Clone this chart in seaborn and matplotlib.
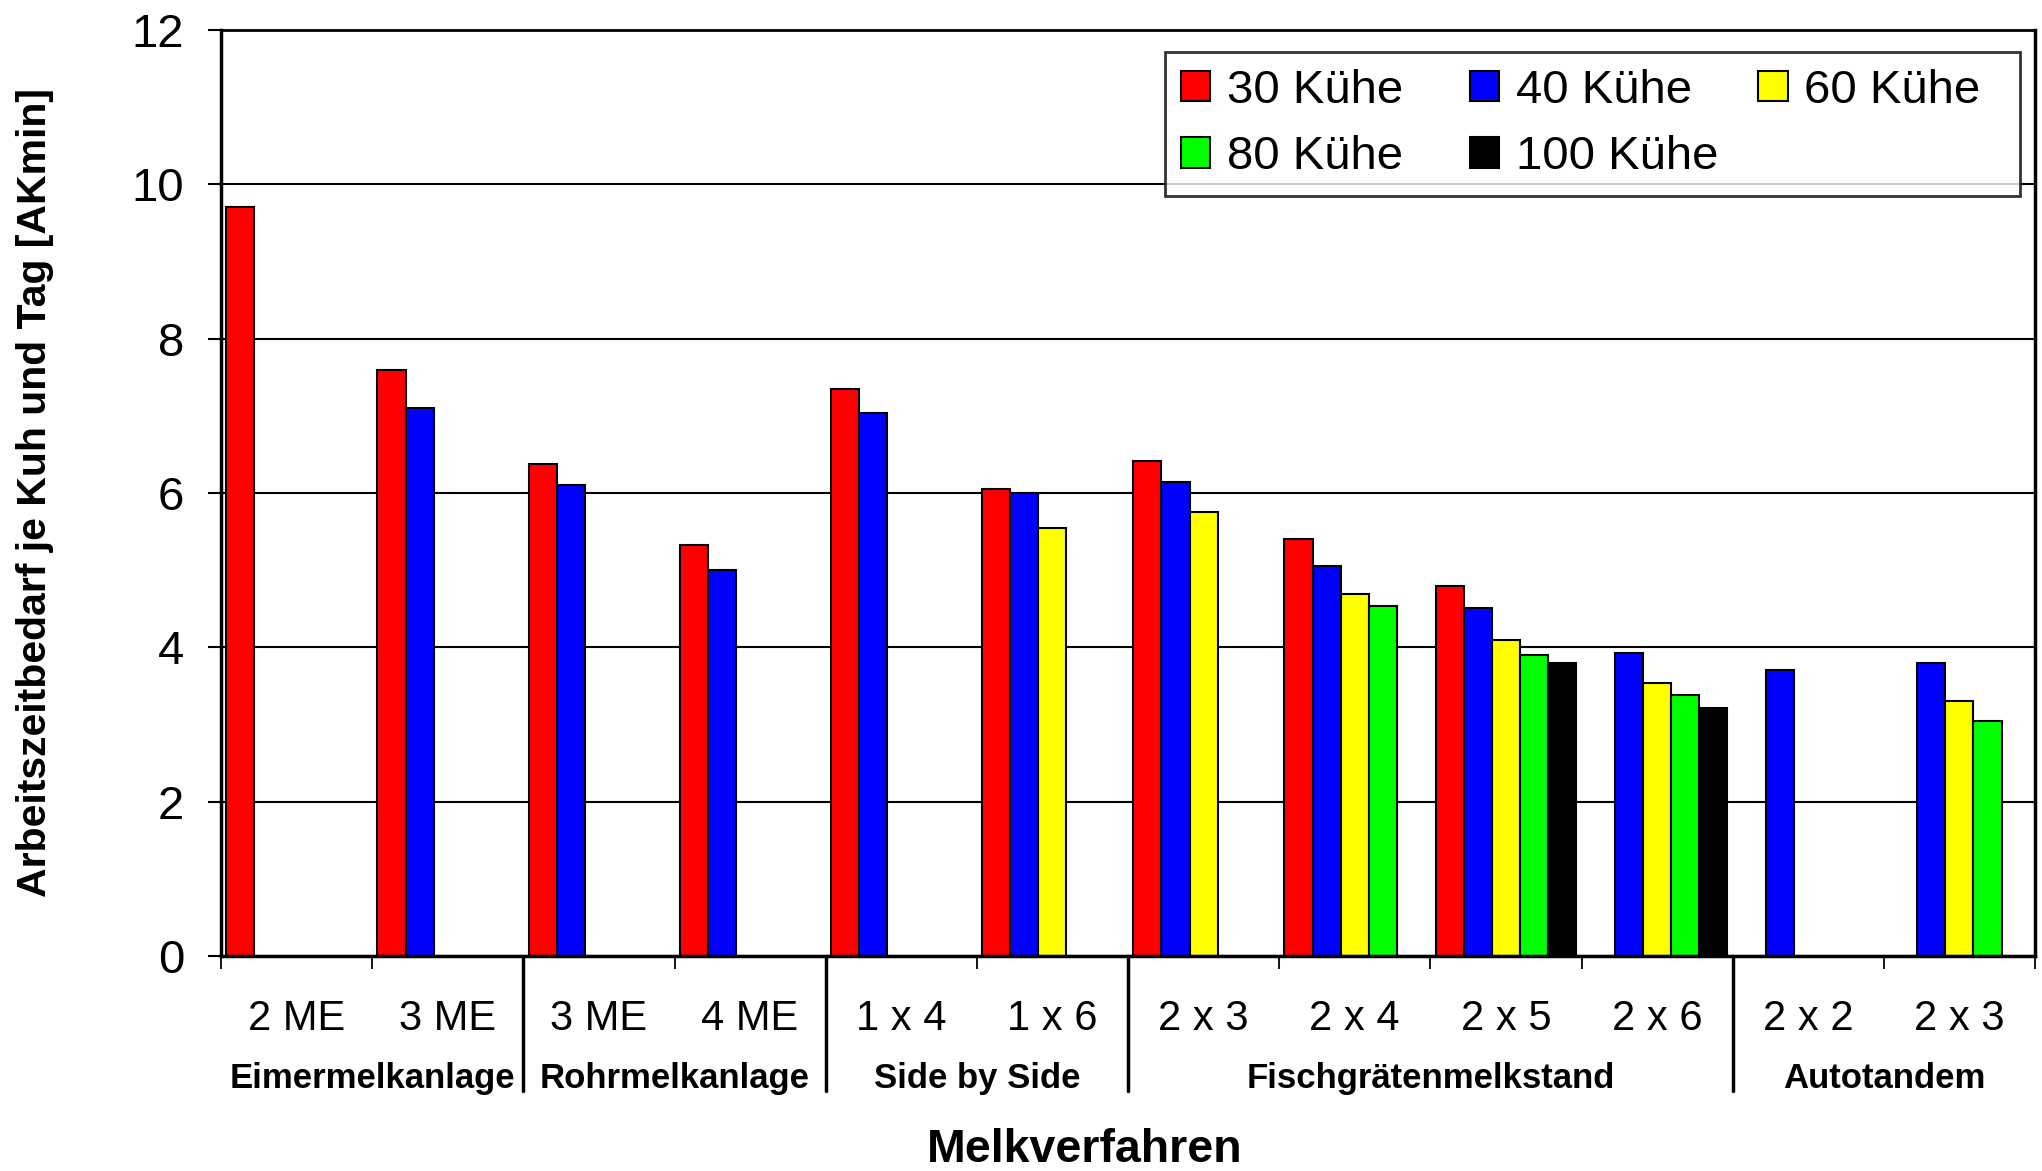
import numpy as np
import pandas as pd
import matplotlib
matplotlib.use("Agg")
import matplotlib.pyplot as plt
import matplotlib.transforms as mtransforms
import seaborn as sns

# Daten
verfahren = ["2 ME", "3 ME", "3 ME", "4 ME", "1 x 4", "1 x 6",
             "2 x 3", "2 x 4", "2 x 5", "2 x 6", "2 x 2", "2 x 3"]
gruppen = ["Eimermelkanlage", "Rohrmelkanlage", "Side by Side",
           "Fischgrätenmelkstand", "Autotandem"]
gruppen_anzahl = [2, 2, 2, 4, 2]
herden = ["30 Kühe", "40 Kühe", "60 Kühe", "80 Kühe", "100 Kühe"]
farben = ["#FF0000", "#0000FF", "#FFFF00", "#00FF00", "#000000"]

kuehe_30 = [9.7, 7.6, 6.38, 5.32, 7.35, 6.05, 6.41, 5.4, 4.8, np.nan, np.nan, np.nan]
kuehe_40 = [np.nan, 7.1, 6.11, 5.0, 7.04, 6.0, 6.14, 5.06, 4.51, 3.93, 3.71, 3.8]
kuehe_60 = [np.nan, np.nan, np.nan, np.nan, np.nan, 5.55, 5.76, 4.69, 4.1, 3.54, np.nan, 3.31]
kuehe_80 = [np.nan, np.nan, np.nan, np.nan, np.nan, np.nan, np.nan, 4.54, 3.9, 3.38, np.nan, 3.05]
kuehe_100 = [np.nan, np.nan, np.nan, np.nan, np.nan, np.nan, np.nan, np.nan, 3.8, 3.21, np.nan, np.nan]

df = pd.DataFrame({
    "pos": np.tile(np.arange(len(verfahren)), len(herden)),
    "herde": np.repeat(herden, len(verfahren)),
    "wert": kuehe_30 + kuehe_40 + kuehe_60 + kuehe_80 + kuehe_100,
}).dropna()

sns.set_theme(style="white")
plt.rcParams["font.family"] = ["Liberation Sans", "DejaVu Sans"]
plt.rcParams["text.color"] = "black"
plt.rcParams["axes.labelcolor"] = "black"
plt.rcParams["xtick.color"] = "black"
plt.rcParams["ytick.color"] = "black"

fig = plt.figure(figsize=(20.42, 11.71), dpi=100)
ax = fig.add_axes([221 / 2042, 1 - 956 / 1171, 1814 / 2042, 926 / 1171])

sns.barplot(
    data=df, x="pos", y="wert", hue="herde",
    order=list(range(len(verfahren))), hue_order=herden,
    palette=farben, saturation=1, width=0.93, gap=0, errorbar=None,
    edgecolor="black", linewidth=1.5, ax=ax,
)

ax.set_xlim(-0.5, len(verfahren) - 0.5)
ax.set_ylim(0, 12)
ax.set_yticks(range(0, 13, 2))
ax.set_axisbelow(True)
ax.yaxis.grid(True, color="black", linewidth=1.5)
ax.xaxis.grid(False)

for seite in ["left", "right", "bottom", "top"]:
    ax.spines[seite].set_visible(True)
    ax.spines[seite].set_color("black")
    ax.spines[seite].set_linewidth(2.5)
ax.spines["top"].set_linewidth(2.0)

# Achsen-Ticks
ax.set_xticks(range(len(verfahren)))
ax.set_xticklabels(verfahren, fontsize=30)
ax.set_xticks(np.arange(-0.5, len(verfahren), 1), minor=True)
ax.tick_params(axis="x", which="major", length=0, pad=31)
ax.tick_params(axis="x", which="minor", length=9.5, width=1.3, direction="out",
               bottom=True)
ax.tick_params(axis="y", length=9.5, width=1.5, direction="out", pad=17,
               labelsize=34, left=True)

# Gruppen-Trennlinien und Gruppennamen
trans = mtransforms.blended_transform_factory(ax.transData, ax.transAxes)
grenzen = np.cumsum(gruppen_anzahl) - 0.5
start = -0.5
for name, ende in zip(gruppen, grenzen):
    ax.text((start + ende) / 2, -0.132, name, transform=trans,
            ha="center", va="center", fontsize=25, fontweight="bold")
    if ende < len(verfahren) - 0.5:
        ax.plot([ende, ende], [0, -0.146], transform=trans, color="black",
                linewidth=2.5, clip_on=False)
    start = ende

ax.set_xlabel("Melkverfahren", fontsize=33.5, fontweight="bold")
ax.xaxis.set_label_coords(0.476, -0.186)
ax.set_ylabel("Arbeitszeitbedarf je Kuh und Tag [AKmin]", fontsize=29.5,
              fontweight="bold")
ax.yaxis.set_label_coords(-0.092, 0.5)

# Legende
handles, labels = ax.get_legend_handles_labels()
if ax.get_legend() is not None:
    ax.get_legend().remove()
reihenfolge = [0, 3, 1, 4, 2]
leg = ax.legend(
    [handles[i] for i in reihenfolge], [labels[i] for i in reihenfolge],
    ncol=3, loc="upper right", bbox_to_anchor=(0.9917, 0.976),
    fontsize=34, frameon=True, fancybox=False, edgecolor="black",
    handlelength=0.62, handleheight=0.62, handletextpad=0.35,
    columnspacing=0.5, labelspacing=0.48, borderpad=0.35, borderaxespad=0,
)
leg.get_frame().set_linewidth(2.0)
# gleich breite Spalten wie im Original
for spalte, breite in zip(leg._legend_handle_box.get_children(), [265, 265, 245]):
    spalte.align = "left"
    spalte.width = breite

fig.savefig("out.png", dpi=100)
